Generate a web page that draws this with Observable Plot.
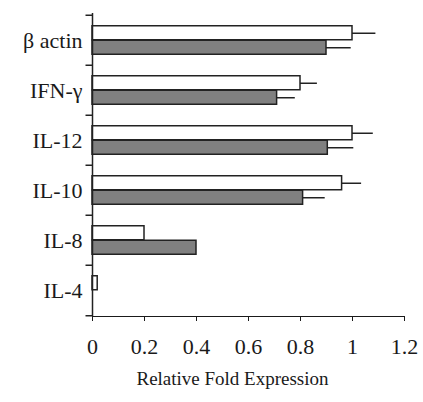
<!DOCTYPE html>
<html><head><meta charset="utf-8">
<script src="https://cdn.jsdelivr.net/npm/d3@7"></script>
<script src="https://cdn.jsdelivr.net/npm/@observablehq/plot@0.6"></script>
<style>
body{margin:0;background:#fff}
</style>
</head><body><div id="chart"></div>
<script>
const categories = ["β actin", "IFN-γ", "IL-12", "IL-10", "IL-8", "IL-4"];
const whiteValues = [1.00, 0.80, 1.00, 0.96, 0.20, 0.02];
const whiteErrors = [0.09, 0.065, 0.08, 0.075, 0, 0];
const greyValues = [0.90, 0.71, 0.905, 0.81, 0.40, 0];
const greyErrors = [0.095, 0.07, 0.10, 0.085, 0, 0];
const xTicks = [0, 0.2, 0.4, 0.6, 0.8, 1, 1.2];
const xTitle = "Relative Fold Expression";

const W = 423, H = 402, mT = 13, mB = 86, mL = 92, mR = 19;
const band = (H - mT - mB) / categories.length;
const barH = 14.5;
const serif = "Times New Roman, Liberation Serif, serif";

const white = categories.map((c, i) => ({category: c, value: whiteValues[i], err: whiteErrors[i]}));
const grey = categories.map((c, i) => ({category: c, value: greyValues[i], err: greyErrors[i]}));

const chart = Plot.plot({
  width: W, height: H,
  marginTop: mT, marginBottom: mB, marginLeft: mL, marginRight: mR,
  style: {fontSize: "22px", color: "#1a1a1a", background: "#fff"},
  x: {domain: [0, 1.2], ticks: xTicks, tickFormat: d3.format("~g"), tickSize: 5, tickPadding: 17, line: true, label: null},
  y: {domain: categories, padding: 0, tickSize: 0, tickPadding: 10, label: null},
  marks: [
    Plot.ruleY(white.filter(d => d.err > 0), {y: "category", x1: "value", x2: d => d.value + d.err, dy: -barH / 2, stroke: "#222", strokeWidth: 1.5}),
    Plot.ruleY(grey.filter(d => d.err > 0), {y: "category", x1: "value", x2: d => d.value + d.err, dy: barH / 2, stroke: "#222", strokeWidth: 1.5}),
    Plot.barX(white.filter(d => d.value > 0), {y: "category", x: "value", fill: "#fff", stroke: "#222", strokeWidth: 1.5,
      insetTop: band / 2 - barH, insetBottom: band / 2}),
    Plot.barX(grey.filter(d => d.value > 0), {y: "category", x: "value", fill: "#808080", stroke: "#222", strokeWidth: 1.5,
      insetTop: band / 2, insetBottom: band / 2 - barH}),
    Plot.ruleX([0], {stroke: "#222", strokeWidth: 1.5}),
    Plot.ruleY(categories, {y: d => d, x1: -0.025, x2: 0, dy: -band / 2, stroke: "#222", strokeWidth: 1.5}),
    Plot.ruleY(categories.slice(-1), {y: d => d, x1: -0.025, x2: 0, dy: band / 2, stroke: "#222", strokeWidth: 1.5}),
    Plot.text([xTitle], {text: d => d, frameAnchor: "bottom", dy: 62, dx: -16, lineAnchor: "middle", fontSize: 19, fill: "#1a1a1a",
      fontFamily: serif, style: "letter-spacing:0.5px"})
  ]
});
chart.setAttribute("font-family", serif);
chart.style.fontFamily = serif;
d3.select(chart).selectAll("text").attr("font-family", serif).style("font-family", serif);
document.getElementById("chart").appendChild(chart);
</script>
</body></html>
